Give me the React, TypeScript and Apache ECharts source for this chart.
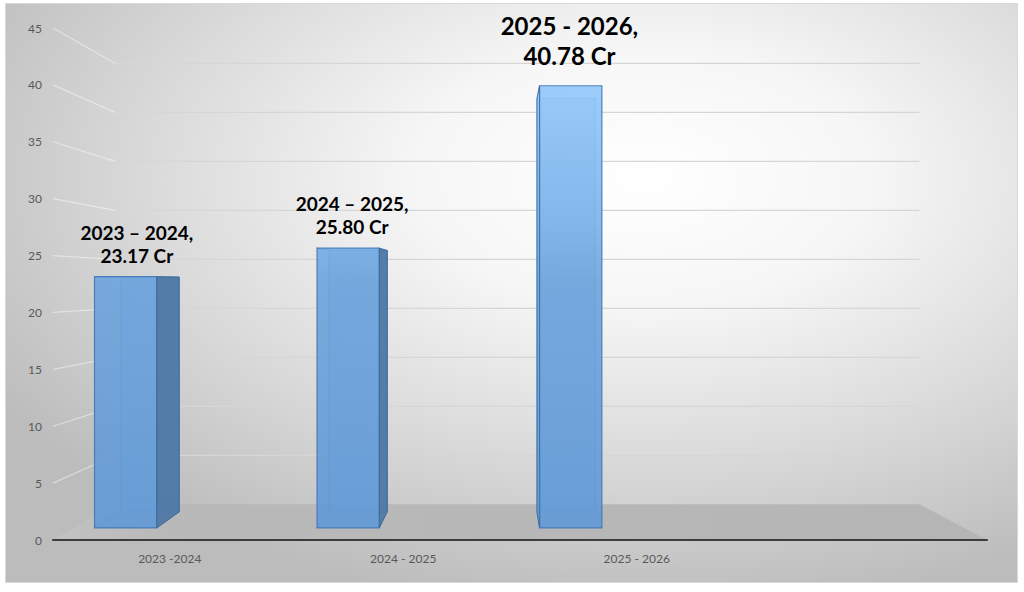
import React, { useEffect, useRef } from "react";
import * as echarts from "echarts";

// ---- data ----
const categories = ["2023 -2024", "2024 - 2025", "2025 - 2026", ""];
const periods = ["2023 – 2024", "2024 – 2025", "2025 - 2026"];
const values = [23.17, 25.8, 40.78];
const yTicks = [0, 5, 10, 15, 20, 25, 30, 35, 40, 45];

// ---- perspective / style constants ----
const VXR = 0.479; // vanishing point, fraction of grid width
const VYR = 0.498; // vanishing point, fraction of grid height
const S_WALL = 0.861; // back wall depth scale
const S_FRONT = 0.953; // bar front plane scale
const S_BACK = 0.891; // bar back plane scale
const BAR_SHIFT = -0.268; // bar offset within band
const BAR_HALF = 0.14; // bar half width as band fraction
const FONT = "Lato, 'Open Sans', sans-serif";

type P = number[];
const proj = (V: P, x: number, y: number, s: number): P => [
  V[0] + s * (x - V[0]),
  V[1] + s * (y - V[1]),
];

const frontFill = {
  type: "linear",
  global: true,
  x: 0,
  y: 85,
  x2: 0,
  y2: 530,
  colorStops: [
    { offset: 0, color: "#93c8fa" },
    { offset: 0.3, color: "#7cb3ea" },
    { offset: 0.45, color: "#6ca3dc" },
    { offset: 1, color: "#6199d6" },
  ],
};

export default function App() {
  const ref = useRef<HTMLDivElement>(null);

  useEffect(() => {
    if (!ref.current) return;
    const chart = echarts.init(ref.current, null, { renderer: "svg" });

    const gridRender = (params: any, api: any) => {
      const v = api.value(0);
      const cs = params.coordSys;
      const V = [cs.x + cs.width * VXR, cs.y + cs.height * VYR];
      const y = api.coord([0, v])[1];
      const a = [cs.x, y];
      const b = proj(V, cs.x, y, S_WALL);
      const c = proj(V, cs.x + cs.width, y, S_WALL);
      return {
        type: "group",
        children: [
          {
            type: "line",
            shape: { x1: a[0], y1: a[1], x2: b[0], y2: b[1] },
            style: { stroke: "rgba(255,255,255,0.45)", lineWidth: 1.2 },
          },
          {
            type: "line",
            shape: { x1: b[0], y1: b[1], x2: c[0], y2: c[1] },
            style: { stroke: "#d6d6d6", lineWidth: 1.2 },
          },
        ],
      };
    };

    const floorRender = (params: any, api: any) => {
      const cs = params.coordSys;
      const V = [cs.x + cs.width * VXR, cs.y + cs.height * VYR];
      const y0 = api.coord([0, 0])[1];
      const x0 = cs.x;
      const x1 = cs.x + cs.width;
      return {
        type: "polygon",
        shape: {
          points: [[x0, y0], proj(V, x0, y0, S_WALL), proj(V, x1, y0, S_WALL), [x1, y0]],
        },
        style: {
          fill: {
            type: "linear",
            x: 0,
            y: 0,
            x2: 1,
            y2: 0,
            colorStops: [
              { offset: 0, color: "#c2c2c2" },
              { offset: 0.12, color: "#b9b9b9" },
              { offset: 1, color: "#b5b5b5" },
            ],
          },
        },
      };
    };

    const barRender = (params: any, api: any) => {
      const idx = params.dataIndex;
      const i = api.value(0);
      const v = api.value(1);
      const cs = params.coordSys;
      const V = [cs.x + cs.width * VXR, cs.y + cs.height * VYR];
      const p0 = api.coord([i, 0]);
      const pv = api.coord([i, v]);
      const band = api.size([1, 0])[0];
      const cx = p0[0] + BAR_SHIFT * band;
      const hw = BAR_HALF * band;
      const xl = cx - hw;
      const xr = cx + hw;
      const fLB = proj(V, xl, p0[1], S_FRONT);
      const fRB = proj(V, xr, p0[1], S_FRONT);
      const fRT = proj(V, xr, pv[1], S_FRONT);
      const fLT = proj(V, xl, pv[1], S_FRONT);
      const bLB = proj(V, xl, p0[1], S_BACK);
      const bRB = proj(V, xr, p0[1], S_BACK);
      const bRT = proj(V, xr, pv[1], S_BACK);
      const bLT = proj(V, xl, pv[1], S_BACK);
      const edge = "rgba(63,118,180,0.7)";
      const children: any[] = [
        {
          type: "polygon",
          shape: { points: [bLB, bRB, bRT, bLT] },
          style: { fill: "rgba(110,165,220,0.35)", stroke: edge, lineWidth: 1 },
        },
        {
          type: "polyline",
          shape: { points: [fLB, bLB] },
          style: { stroke: edge, lineWidth: 1, fill: null },
        },
        {
          type: "polyline",
          shape: { points: [fLT, bLT] },
          style: { stroke: edge, lineWidth: 1, fill: null },
        },
        {
          type: "polygon",
          shape: { points: [fLB, fRB, fRT, fLT] },
          style: { fill: frontFill, opacity: 0.9, stroke: "#3f78b8", lineWidth: 1.2 },
        },
      ];
      if (bRB[0] > fRB[0]) {
        children.push({
          type: "polygon",
          shape: { points: [fRB, bRB, bRT, fRT] },
          style: { fill: "#4f78a5", opacity: 0.95, stroke: "#3d6894", lineWidth: 1 },
        });
      }
      if (bLB[0] < fLB[0]) {
        children.push({
          type: "polygon",
          shape: { points: [bLB, fLB, fLT, bLT] },
          style: { fill: frontFill, opacity: 0.9, stroke: "#3f6fa6", lineWidth: 1 },
        });
      }
      if (bLT[1] < fLT[1]) {
        children.push({
          type: "polygon",
          shape: { points: [fLT, fRT, bRT, bLT] },
          style: { fill: "#80b5e8", stroke: "#3f78b8", lineWidth: 1 },
        });
      }
      const minX = Math.min(fLB[0], bLB[0]);
      const maxX = Math.max(fRB[0], bRB[0]);
      const big = idx === values.length - 1;
      const fs = big ? 24 : 19;
      children.push({
        type: "text",
        style: {
          text: `${periods[idx]},\n${values[idx].toFixed(2)} Cr`,
          x: (minX + maxX) / 2,
          y: fLT[1] - (big ? 15 : 10),
          align: "center",
          verticalAlign: "bottom",
          font: `bold ${fs}px ${FONT}`,
          lineHeight: big ? 30 : 23,
          fill: "#000000",
        },
      });
      return { type: "group", children };
    };

    chart.setOption({
      animation: false,
      graphic: [
        {
          type: "rect",
          left: 5,
          top: 3,
          z: -10,
          shape: { width: 1012, height: 579 },
          style: {
            fill: {
              type: "radial",
              x: 0.63,
              y: 0.3,
              r: 0.75,
              colorStops: [
                { offset: 0, color: "#ffffff" },
                { offset: 0.3, color: "#f6f6f6" },
                { offset: 0.65, color: "#dadada" },
                { offset: 1, color: "#bcbcbc" },
              ],
            },
            stroke: "#d9d9d9",
            lineWidth: 1,
          },
        },
      ],
      grid: { left: 53, right: 37, top: 28, bottom: 52, containLabel: false },
      xAxis: {
        type: "category",
        data: categories,
        z: 5,
        axisTick: { show: false },
        axisLine: { lineStyle: { color: "#3c3c3c", width: 2 } },
        axisLabel: { color: "#595959", fontSize: 12, fontFamily: FONT, margin: 12 },
        splitLine: { show: false },
      },
      yAxis: {
        type: "value",
        min: 0,
        max: 45,
        interval: 5,
        axisLine: { show: false },
        axisTick: { show: false },
        splitLine: { show: false },
        axisLabel: { color: "#595959", fontSize: 12, fontFamily: FONT, margin: 11 },
      },
      series: [
        {
          type: "custom",
          z: 1,
          renderItem: gridRender,
          data: yTicks.filter((t) => t > 0).map((t) => [t]),
          encode: { y: 0 },
          silent: true,
        },
        {
          type: "custom",
          z: 2,
          renderItem: floorRender,
          data: [[0, 0]],
          silent: true,
        },
        {
          type: "custom",
          z: 3,
          renderItem: barRender,
          data: values.map((v, i) => [i, v]),
          encode: { x: 0, y: 1 },
        },
      ],
    });

    return () => chart.dispose();
  }, []);

  return (
    <div
      ref={ref}
      style={{ position: "fixed", left: 0, top: 0, width: 1024, height: 592, background: "#ffffff" }}
    />
  );
}
